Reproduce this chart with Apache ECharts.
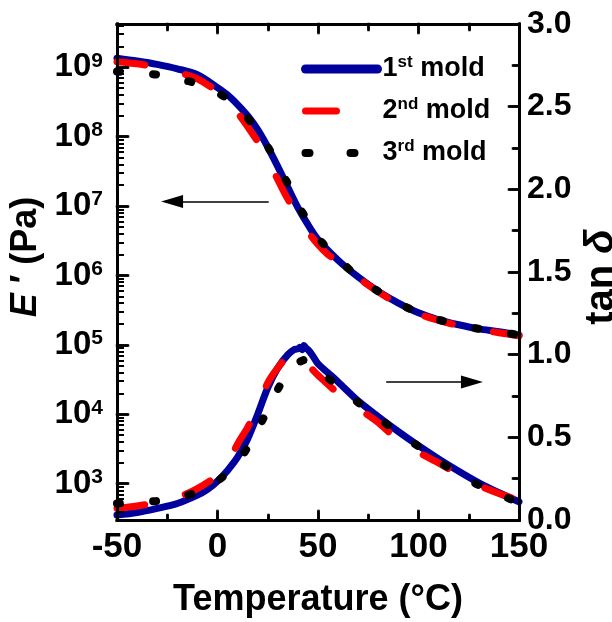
<!DOCTYPE html>
<html><head><meta charset="utf-8">
<script src="https://cdn.jsdelivr.net/npm/echarts@6/dist/echarts.min.js"></script>
<style>html,body{margin:0;padding:0;background:#fff}#c{width:612px;height:622px}</style>
</head><body><div id="c"></div>
<script>
// ---------- data ----------
const seriesNames = ['1st mold', '2nd mold', '3rd mold'];
const xTickMin = -50, xTickMax = 150, xTickStep = 50;
const yRightMin = 0, yRightMax = 3, yRightStep = 0.5;
const yLeftMin = 300, yLeftMax = 4.2e9;
const xMajorTicks = [-50, 0, 50, 100, 150];
const xMinorTicks = [-25, 25, 75, 125];
const rightMajorTicks = [0, 0.5, 1.0, 1.5, 2.0, 2.5, 3.0];
const rightMinorTicks = [0.25, 0.75, 1.25, 1.75, 2.25, 2.75];
const leftMajorTicks = [1e3, 1e4, 1e5, 1e6, 1e7, 1e8, 1e9];

// storage modulus E' (Pa)
const tempE1 = [-50,-40,-30,-20,-10,0,5,10,15,20,25,30,35,40,45,50,60,70,80,90,100,110,120,130,140,150];
const modE1  = [1.35e9,1.23e9,1.10e9,9.5e8,7.8e8,5.1e8,4.0e8,2.9e8,2.0e8,1.26e8,7.1e7,3.7e7,1.86e7,9.5e6,5.4e6,3.3e6,1.66e6,9.5e5,5.9e5,4.0e5,2.9e5,2.3e5,1.95e5,1.7e5,1.55e5,1.38e5];
const tempE2 = [-50,-40,-30,-20,-10,0,10,20,25,30,35,40,45,50,55,60,70,80,90,100,110,120,130,140,150];
const modE2  = [1.2e9,1.12e9,1.0e9,8.5e8,6.8e8,4.4e8,2.2e8,8.5e7,4.8e7,2.4e7,1.26e7,7.6e6,4.3e6,2.8e6,2.0e6,1.58e6,9.3e5,5.8e5,3.9e5,2.8e5,2.25e5,1.9e5,1.66e5,1.5e5,1.35e5];
const tempE3 = [-50,-40,-30,-20,-10,0,10,20,25,30,35,40,45,50,60,70,80,90,100,110,120,130,140,150];
const modE3  = [8.7e8,8.3e8,7.8e8,6.8e8,5.8e8,4.3e8,2.75e8,1.17e8,7.2e7,3.8e7,2.1e7,1.05e7,6.0e6,3.5e6,1.74e6,9.5e5,5.9e5,4.0e5,2.9e5,2.3e5,1.95e5,1.7e5,1.55e5,1.38e5];

// loss factor tan delta
const tempT1 = [-50,-40,-30,-20,-10,-5,0,5,10,15,20,25,30,35,38,40,41,42,43,44,45,47,50,55,60,70,80,90,100,110,120,130,140,150];
const tanT1  = [0.03,0.045,0.07,0.10,0.15,0.185,0.235,0.30,0.38,0.49,0.64,0.80,0.92,1.00,1.03,1.035,1.045,1.03,1.055,1.04,1.03,1.00,0.945,0.89,0.835,0.72,0.625,0.535,0.45,0.37,0.295,0.225,0.165,0.11];
const tempT2 = [-50,-40,-30,-20,-10,0,5,10,15,20,25,30,35,38,41,45,50,55,60,65,70,76,80,85,90,100,110,120,130,140,150];
const tanT2  = [0.07,0.085,0.105,0.135,0.19,0.27,0.34,0.46,0.56,0.68,0.83,0.92,0.99,1.01,1.00,0.94,0.875,0.82,0.765,0.72,0.675,0.625,0.59,0.535,0.49,0.41,0.345,0.275,0.21,0.16,0.12];
const tempT3 = [-50,-40,-30,-20,-10,0,10,15,20,25,30,35,40,44,48,55,60,70,80,90,100,110,120,130,140,150];
const tanT3  = [0.10,0.108,0.115,0.135,0.17,0.235,0.35,0.44,0.545,0.67,0.79,0.89,0.95,0.97,0.945,0.86,0.81,0.71,0.62,0.525,0.445,0.355,0.28,0.21,0.155,0.105];

// annotation arrows [temperature, value]
const arrowLeftFrom = [25.1, 1.16e7], arrowLeftTo = [-22.6, 1.16e7];
const arrowRightFrom = [84.3, 0.835], arrowRightTo = [126.6, 0.835];

// ---------- chart ----------
const FF = '"Liberation Sans", Arial, Helvetica, sans-serif';
const pairs = (xs, ys) => xs.map((x, i) => [x, ys[i]]);
const colors = ['#00009C', '#FF0000', '#000000'];
const styles = [
  {width: 7, type: 'solid', cap: 'round', join: 'round'},
  {width: 7, type: [28, 42], cap: 'round', join: 'round'},
  {width: 8, type: [3, 33], cap: 'round', join: 'round'}
];
const legendLine = [
  {width: 9, type: 'solid', cap: 'round'},
  {width: 7, type: [31, 100], cap: 'round'},
  {width: 8, type: [4, 41], cap: 'round'}
];
const eData = [pairs(tempE1, modE1), pairs(tempE2, modE2), pairs(tempE3, modE3)];
const tData = [pairs(tempT1, tanT1), pairs(tempT2, tanT2), pairs(tempT3, tanT3)];

// grid geometry (px) and tick lengths (px) -> data units for the frame drawn as mark lines
const gridL = 117, gridR = 93, gridT = 24, gridB = 102, W = 612, H = 622;
const pxPerX = (W - gridL - gridR) / (xTickMax - xTickMin);
const pxPerTan = (H - gridT - gridB) / (yRightMax - yRightMin);
const LEFT_MAJ = 11, LEFT_MIN = 6, RIGHT_MAJ = 10, RIGHT_MIN = 6, BOT_MAJ = 9, BOT_MIN = 5, TOP_MAJ = 9, TOP_MIN = 6;
const leftMinorTicks = [];
for (let e = 2; e <= 9; e++) for (let k = 2; k <= 9; k++) {
  const v = k * Math.pow(10, e);
  if (v > yLeftMin && v < yLeftMax) leftMinorTicks.push(v);
}
const seg = (a, b, w) => [{coord: a, symbol: 'none'}, {coord: b, symbol: 'none'}].map((p, i) => i === 0 ? Object.assign(p, {lineStyle: {width: w}}) : p);
const frameE = [];
leftMajorTicks.forEach(v => frameE.push(seg([xTickMin, v], [xTickMin + LEFT_MAJ / pxPerX, v], 2.5)));
leftMinorTicks.forEach(v => frameE.push(seg([xTickMin, v], [xTickMin + LEFT_MIN / pxPerX, v], 2)));
frameE.push([{coord: arrowLeftFrom, symbol: 'none', lineStyle: {width: 1.5}}, {coord: arrowLeftTo, symbol: 'triangle', symbolSize: [13, 22]}]);
const frameT = [];
frameT.push(seg([xTickMin, yRightMin], [xTickMin, yRightMax], 3));
frameT.push(seg([xTickMax, yRightMin], [xTickMax, yRightMax], 3));
frameT.push(seg([xTickMin, yRightMin], [xTickMax, yRightMin], 3));
frameT.push(seg([xTickMin, yRightMax], [xTickMax, yRightMax], 3));
xMajorTicks.forEach(x => {
  frameT.push(seg([x, yRightMin], [x, yRightMin + BOT_MAJ / pxPerTan], 2.5));
  frameT.push(seg([x, yRightMax], [x, yRightMax - TOP_MAJ / pxPerTan], 2.5));
});
xMinorTicks.forEach(x => {
  frameT.push(seg([x, yRightMin], [x, yRightMin + BOT_MIN / pxPerTan], 2.5));
  frameT.push(seg([x, yRightMax], [x, yRightMax - TOP_MIN / pxPerTan], 2.5));
});
rightMajorTicks.forEach(v => frameT.push(seg([xTickMax, v], [xTickMax - RIGHT_MAJ / pxPerX, v], 2.5)));
rightMinorTicks.forEach(v => frameT.push(seg([xTickMax, v], [xTickMax - RIGHT_MIN / pxPerX, v], 2.5)));
frameT.push([{coord: arrowRightFrom, symbol: 'none', lineStyle: {width: 1.5}}, {coord: arrowRightTo, symbol: 'triangle', symbolSize: [13, 22]}]);

const markCommon = data => ({
  silent: true, animation: false, symbol: ['none', 'none'], symbolSize: [13, 22], precision: 6,
  label: {show: false}, emphasis: {disabled: true},
  lineStyle: {color: '#000', width: 2.5, type: 'solid', cap: 'square'},
  data
});

const series = [];
for (let i = 0; i < 3; i++) {
  const s = {
    name: seriesNames[i], type: 'line', xAxisIndex: 0, yAxisIndex: 0, data: eData[i],
    smooth: 0.3, showSymbol: false, symbol: 'none', z: 2 + i,
    lineStyle: Object.assign({color: colors[i]}, styles[i]), itemStyle: {color: colors[i]}
  };
  if (i === 0) s.markLine = markCommon(frameE);
  series.push(s);
}
for (let i = 0; i < 3; i++) {
  const s = {
    name: seriesNames[i], type: 'line', xAxisIndex: 0, yAxisIndex: 1, data: tData[i],
    smooth: 0.3, showSymbol: false, symbol: 'none', z: 2 + i,
    lineStyle: Object.assign({color: colors[i]}, styles[i]), itemStyle: {color: colors[i]}
  };
  if (i === 0) s.markLine = markCommon(frameT);
  series.push(s);
}

const axisLine = {show: true, onZero: false, lineStyle: {color: '#000', width: 3}};
const tickStyle = {color: '#000', width: 2.5};

const chart = echarts.init(document.getElementById('c'));
chart.setOption({
  animation: false,
  backgroundColor: '#fff',
  grid: {left: gridL, right: gridR, top: gridT, bottom: gridB, outerBoundsMode: 'none'},
  legend: {
    orient: 'vertical', left: 296, top: 49, itemWidth: 72, itemHeight: 14, itemGap: 12, itemTextGap: 6,
    selectedMode: false,
    data: seriesNames.map((n, i) => ({
      name: n,
      lineStyle: Object.assign({color: colors[i]}, legendLine[i]),
      itemStyle: {color: 'rgba(0,0,0,0)', opacity: 0, borderWidth: 0}
    })),
    formatter: name => {
      const m = name.match(/^(\d)(\w\w) (.*)$/);
      return '{n|' + m[1] + '}{s|' + m[2] + '}{n| ' + m[3] + '}';
    },
    textStyle: {
      color: '#000', fontFamily: FF, fontWeight: 'bold', fontSize: 27, lineHeight: 30,
      rich: {
        n: {fontSize: 27, fontWeight: 'bold', fontFamily: FF, color: '#000', lineHeight: 30},
        s: {fontSize: 17, fontWeight: 'bold', fontFamily: FF, color: '#000', lineHeight: 18, verticalAlign: 'top'}
      }
    }
  },
  xAxis: [{
    type: 'value', position: 'bottom', min: xTickMin, max: xTickMax, interval: xTickStep,
    name: 'Temperature (\u00B0C)', nameLocation: 'middle', nameGap: 62,
    nameTextStyle: {fontFamily: FF, fontWeight: 'bold', fontSize: 36, color: '#000'},
    axisLine, axisTick: {inside: true, length: BOT_MAJ, lineStyle: tickStyle},
    minorTick: {show: true, splitNumber: 2, length: BOT_MIN, lineStyle: tickStyle},
    axisLabel: {color: '#000', fontFamily: FF, fontWeight: 'bold', fontSize: 35, margin: 10},
    splitLine: {show: false}
  }, {
    type: 'value', position: 'top', min: xTickMin, max: xTickMax, interval: xTickStep,
    axisLine, axisTick: {inside: true, length: TOP_MAJ, lineStyle: tickStyle},
    minorTick: {show: true, splitNumber: 2, length: TOP_MIN, lineStyle: tickStyle},
    axisLabel: {show: false}, splitLine: {show: false}
  }],
  yAxis: [{
    type: 'log', logBase: 10, position: 'left', min: yLeftMin, max: yLeftMax,
    name: '{i|E}{n| \u2032 (Pa)}', nameLocation: 'middle', nameGap: 67, nameRotate: 90,
    nameTextStyle: {
      color: '#000', fontFamily: FF, fontWeight: 'bold', fontSize: 36, padding: [0, 0, 0, 30],
      rich: {
        i: {fontFamily: FF, fontWeight: 'bold', fontStyle: 'italic', fontSize: 36, color: '#000'},
        n: {fontFamily: FF, fontWeight: 'bold', fontSize: 36, color: '#000'}
      }
    },
    axisLine, axisTick: {inside: true, length: LEFT_MAJ, lineStyle: tickStyle},
    axisLabel: {
      showMinLabel: false, showMaxLabel: false, margin: 14,
      formatter: v => '{b|10}{s|' + Math.round(Math.log10(v)) + '}',
      rich: {
        b: {fontFamily: FF, fontWeight: 'bold', fontSize: 33, color: '#000', lineHeight: 34},
        s: {fontFamily: FF, fontWeight: 'bold', fontSize: 21, color: '#000', lineHeight: 22, verticalAlign: 'top'}
      }
    },
    splitLine: {show: false}
  }, {
    type: 'value', position: 'right', min: yRightMin, max: yRightMax, interval: yRightStep,
    name: '{n|tan }{i|\u03B4}', nameLocation: 'middle', nameGap: 60, nameRotate: 90,
    nameTextStyle: {
      color: '#000', fontFamily: FF, fontWeight: 'bold', fontSize: 40, padding: [0, 10, 0, 0],
      rich: {
        i: {fontFamily: FF, fontStyle: 'italic', fontSize: 40, color: '#000'},
        n: {fontFamily: FF, fontWeight: 'bold', fontSize: 40, color: '#000'}
      }
    },
    axisLine, axisTick: {inside: true, length: RIGHT_MAJ, lineStyle: tickStyle},
    minorTick: {show: true, splitNumber: 2, length: RIGHT_MIN, lineStyle: tickStyle},
    axisLabel: {color: '#000', fontFamily: FF, fontWeight: 'bold', fontSize: 32, margin: 8,
                formatter: v => v.toFixed(1)},
    splitLine: {show: false}
  }],
  series
});
</script>
</body></html>
